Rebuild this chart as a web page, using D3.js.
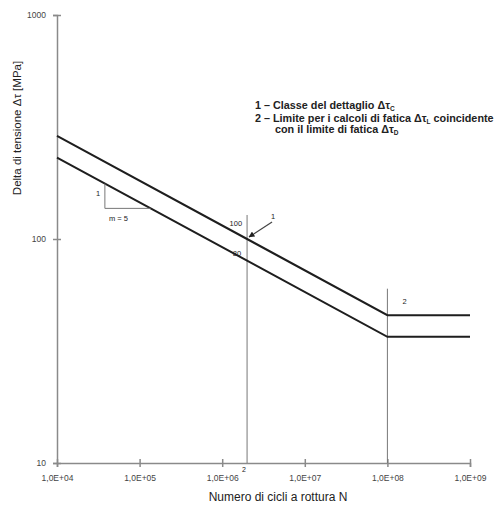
<!DOCTYPE html>
<meta charset="utf-8">
<style>
body { margin: 0; background: #fff; }
text { font-family: "Liberation Sans", Arial, sans-serif; fill: #222; }
.axis path, .axis line { stroke: #8a8a8a; stroke-width: 1.5px; }
.axis text { font-size: 8.5px; fill: #444; }
.curve { fill: none; stroke: #1e1e1e; stroke-width: 2px; }
.guide { stroke: #777; stroke-width: 1px; }
.legend { font-size: 10.8px; fill: #222; }
</style>
<svg width="496" height="506"></svg>
<script src="https://d3js.org/d3.v7.min.js"></script>
<script>

// cycles at the break points of the two curves
var cycles = [1e4, 2e6, 1e8, 1e9];
// stress range (MPa) at those break points
var class100 = [288.5, 100, 45.7, 45.7];
var class80 = [230.8, 80, 36.6, 36.6];

var xTicks = [1e4, 1e5, 1e6, 1e7, 1e8, 1e9];
var xTickLabels = ["1,0E+04", "1,0E+05", "1,0E+06", "1,0E+07", "1,0E+08", "1,0E+09"];
var yTicks = [10, 100, 1000];
var yTickLabels = ["10", "100", "1000"];

var legendLines = [
  ["1 – Classe del dettaglio Δτ", "C"],
  ["2 – Limite per i calcoli di fatica Δτ", "L", " coincidente"],
  ["con il limite di fatica Δτ", "D"]
];

var svg = d3.select("svg");

var x = d3.scaleLog().domain([1e4, 1e9]).range([57, 470]);
var y = d3.scaleLog().domain([10, 1000]).range([463, 15]);

// axes
var xAxis = svg.append("g")
    .attr("class", "axis")
    .attr("transform", "translate(0," + y(10) + ")")
    .call(d3.axisBottom(x).tickValues(xTicks)
      .tickFormat(function(d, i) { return xTickLabels[i]; })
      .tickSizeOuter(0).tickSize(4).tickPadding(8));
xAxis.selectAll(".tick line").attr("y1", -4).attr("y2", 4);

var yAxis = svg.append("g")
    .attr("class", "axis")
    .attr("transform", "translate(" + x(1e4) + ",0)")
    .call(d3.axisLeft(y).tickValues(yTicks)
      .tickFormat(function(d, i) { return yTickLabels[i]; })
      .tickSizeOuter(0).tickSize(4).tickPadding(7));
yAxis.selectAll(".tick line").attr("x1", -4).attr("x2", 4);

// vertical guides at N = 2e6 and N = 1e8
svg.append("line").attr("class", "guide")
    .attr("x1", x(2e6)).attr("x2", x(2e6))
    .attr("y1", y(10)).attr("y2", y(128));
svg.append("line").attr("class", "guide")
    .attr("x1", x(1e8)).attr("x2", x(1e8))
    .attr("y1", y(10)).attr("y2", y(60));

// curves
var line = d3.line()
    .x(function(d) { return x(d[0]); })
    .y(function(d) { return y(d[1]); });

[class100, class80].forEach(function(s) {
  svg.append("path").attr("class", "curve")
      .attr("d", line(cycles.map(function(n, i) { return [n, s[i]]; })));
});

// slope triangle under the lower curve
var tN = 3.8e4;
var tTop = class80[0] * Math.pow(cycles[0] / tN, 1 / 5);
var tBot = tTop / 1.29;
var tN2 = tN * Math.pow(1.29, 5);
svg.append("path")
    .attr("d", "M" + x(tN) + "," + y(tTop) + "V" + y(tBot) + "H" + x(tN2))
    .attr("fill", "none").attr("stroke", "#777").attr("stroke-width", 1);
svg.append("text").attr("x", x(tN) - 9).attr("y", y(tTop) + 12)
    .attr("font-size", 7.5).text("1");
svg.append("text").attr("x", x(tN) + 4).attr("y", y(tBot) + 13)
    .attr("font-size", 7.5).text("m = 5");

// curve labels
svg.append("text").attr("x", x(2e6) - 5).attr("y", y(100) - 13)
    .attr("text-anchor", "end").attr("font-size", 7.5).text("100");
svg.append("text").attr("x", x(2e6) - 6).attr("y", y(80) - 5)
    .attr("text-anchor", "end").attr("font-size", 7.5).text("80");

// arrow "1"
svg.append("defs").append("marker")
    .attr("id", "ah").attr("viewBox", "0 0 10 10")
    .attr("refX", 9).attr("refY", 5)
    .attr("markerWidth", 5).attr("markerHeight", 5)
    .attr("orient", "auto")
  .append("path").attr("d", "M0,0L10,5L0,10z").attr("fill", "#222");
svg.append("line")
    .attr("x1", x(2e6) + 25).attr("y1", y(100) - 17)
    .attr("x2", x(2e6) + 2).attr("y2", y(100) - 2)
    .attr("stroke", "#444").attr("stroke-width", 1.2)
    .attr("marker-end", "url(#ah)");
svg.append("text").attr("x", x(2e6) + 24).attr("y", y(100) - 20)
    .attr("font-size", 7.5).text("1");

// labels "2"
svg.append("text").attr("x", x(1e8) + 15).attr("y", y(60) + 15)
    .attr("font-size", 7.5).text("2");
svg.append("text").attr("x", x(2e6) - 5).attr("y", y(10) + 9)
    .attr("font-size", 7).text("2");

// legend
var lg = svg.append("g").attr("class", "legend");
var lx = [255, 255, 275], ly = [109, 122, 133];
legendLines.forEach(function(l, i) {
  var t = lg.append("text").attr("x", lx[i]).attr("y", ly[i]).style("font-weight", 600);
  t.append("tspan").text(l[0]);
  t.append("tspan").attr("font-size", 6.5).attr("dy", 2).text(l[1]);
  if (l[2]) t.append("tspan").attr("dy", -2).text(l[2]);
});

// axis titles
svg.append("text")
    .attr("transform", "translate(21,128) rotate(-90)")
    .attr("text-anchor", "middle").attr("font-size", 11.5)
    .text("Delta di tensione Δτ [MPa]");
svg.append("text")
    .attr("x", 278).attr("y", 501)
    .attr("text-anchor", "middle").attr("font-size", 12)
    .text("Numero di cicli a rottura N");

</script>
